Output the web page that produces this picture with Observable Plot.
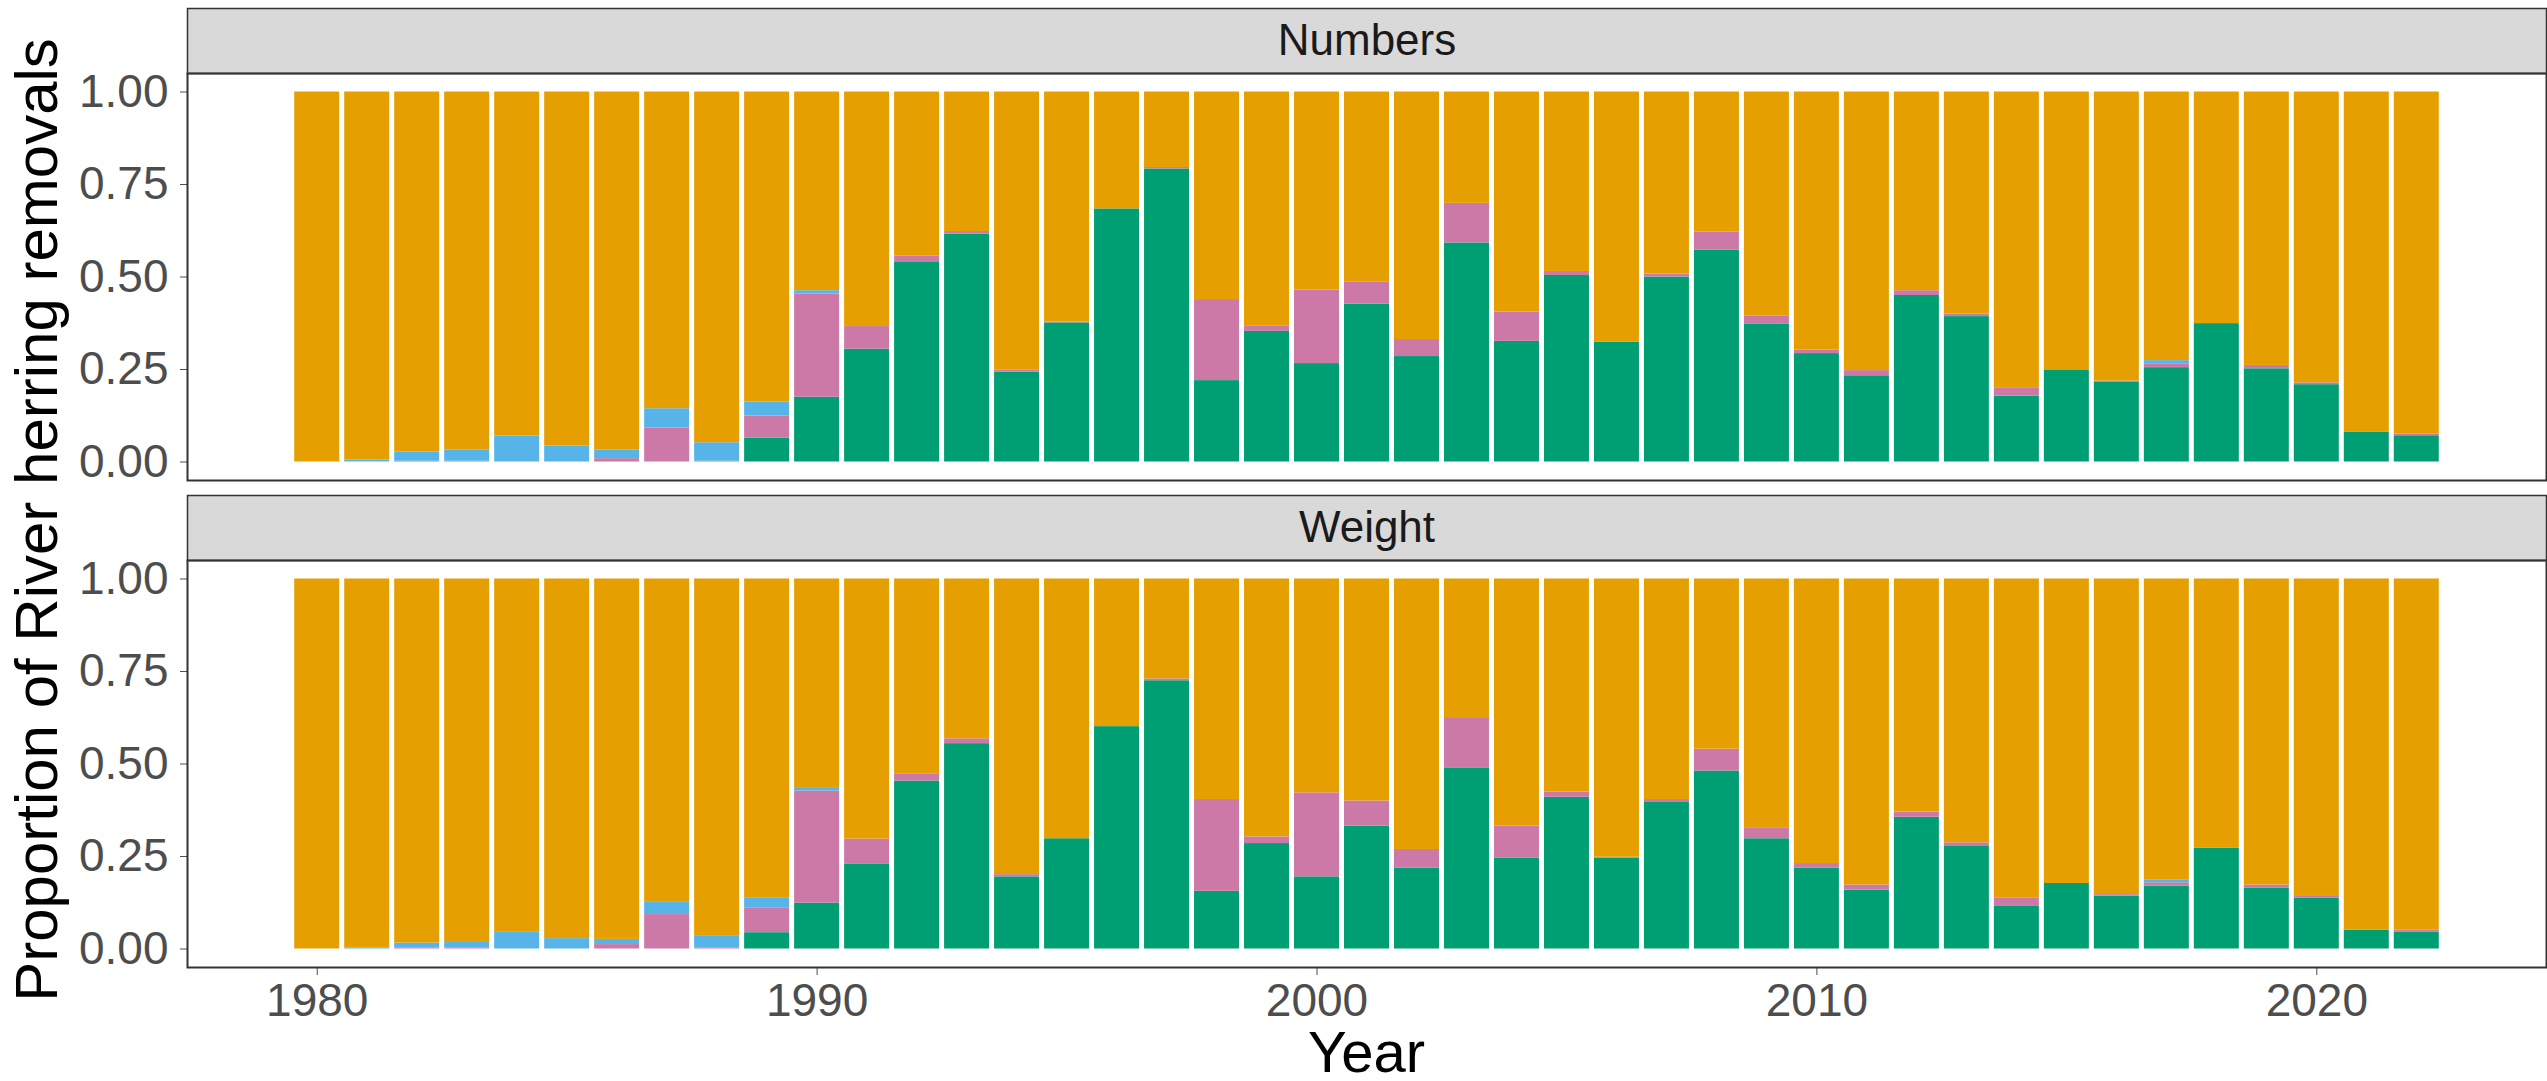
<!DOCTYPE html>
<html>
<head>
<meta charset="utf-8">
<script src="https://cdn.jsdelivr.net/npm/d3@7"></script>
<script src="https://cdn.jsdelivr.net/npm/@observablehq/plot@0.6"></script>
<style>
  html, body { margin: 0; padding: 0; background: #ffffff; }
</style>
</head>
<body>
<div id="chart"></div>
<script>
// ---------- data ----------
const years = [1980,1981,1982,1983,1984,1985,1986,1987,1988,1989,
               1990,1991,1992,1993,1994,1995,1996,1997,1998,1999,
               2000,2001,2002,2003,2004,2005,2006,2007,2008,2009,
               2010,2011,2012,2013,2014,2015,2016,2017,2018,2019,
               2020,2021,2022];

const panels = ["Numbers", "Weight"];

// stacking order, bottom to top
const seriesNames  = ["Series 1", "Series 2", "Series 3", "Series 4"];
const seriesColors = ["#009E73", "#CC79A7", "#56B4E9", "#E69F00"];

const xTicks = [1980, 1990, 2000, 2010, 2020];
const yTicks = [0, 0.25, 0.5, 0.75, 1];

// Numbers panel
const numbersS1 = [0,0,0,0,0,0,0,0,0,0.064,
                   0.175,0.305,0.541,0.616,0.243,0.376,0.684,0.792,0.220,0.353,
                   0.266,0.427,0.285,0.592,0.326,0.504,0.323,0.500,0.573,0.372,
                   0.293,0.233,0.450,0.393,0.178,0.249,0.215,0.255,0.374,0.252,
                   0.209,0.080,0.071];
const numbersS2 = [0,0,0.002,0.002,0,0,0.009,0.092,0.002,0.060,
                   0.279,0.061,0.016,0.007,0.005,0.002,0,0.004,0.219,0.015,
                   0.199,0.060,0.046,0.107,0.079,0.011,0.002,0.008,0.048,0.023,
                   0.010,0.014,0.013,0.007,0.021,0,0.004,0.009,0,0.009,
                   0.005,0,0.005];
const numbersS3 = [0,0.005,0.025,0.031,0.070,0.043,0.023,0.052,0.050,0.038,
                   0.009,0,0,0,0,0,0,0,0,0,
                   0,0,0,0,0,0,0,0,0,0,
                   0,0,0,0,0,0,0,0.010,0,0,
                   0,0,0];
const numbersS4 = [1.000,0.995,0.973,0.967,0.930,0.957,0.968,0.856,0.948,0.838,
                   0.537,0.634,0.443,0.377,0.752,0.622,0.316,0.204,0.561,0.632,
                   0.535,0.513,0.669,0.301,0.595,0.485,0.675,0.492,0.379,0.605,
                   0.697,0.753,0.537,0.600,0.801,0.751,0.781,0.726,0.626,0.739,
                   0.786,0.920,0.924];

// Weight panel
const weightS1 = [0,0,0,0,0,0,0,0,0,0.044,
                  0.124,0.230,0.454,0.555,0.195,0.298,0.601,0.725,0.156,0.285,
                  0.195,0.332,0.219,0.488,0.245,0.410,0.246,0.396,0.481,0.298,
                  0.219,0.159,0.356,0.277,0.115,0.177,0.143,0.170,0.272,0.164,
                  0.137,0.051,0.046];
const weightS2 = [0,0,0.002,0.002,0,0,0.012,0.093,0.002,0.066,
                  0.303,0.067,0.018,0.013,0.006,0,0,0.005,0.248,0.018,
                  0.227,0.068,0.050,0.135,0.087,0.014,0.002,0.008,0.059,0.028,
                  0.012,0.014,0.014,0.010,0.022,0,0.004,0.009,0.002,0.009,
                  0.005,0,0.005];
const weightS3 = [0,0.003,0.014,0.018,0.045,0.028,0.014,0.033,0.034,0.027,
                  0.007,0,0,0,0,0,0,0,0,0,
                  0,0,0,0,0,0,0,0,0,0,
                  0,0,0,0,0,0,0,0.008,0,0,
                  0,0,0];
const weightS4 = [1.000,0.997,0.984,0.980,0.955,0.972,0.974,0.874,0.964,0.863,
                  0.566,0.703,0.528,0.432,0.799,0.702,0.399,0.270,0.596,0.697,
                  0.578,0.600,0.731,0.377,0.668,0.576,0.752,0.596,0.460,0.674,
                  0.769,0.827,0.630,0.713,0.863,0.823,0.853,0.813,0.726,0.827,
                  0.858,0.949,0.949];

// ---------- table for the library ----------
const panelSeries = {
  "Numbers": [numbersS1, numbersS2, numbersS3, numbersS4],
  "Weight":  [weightS1,  weightS2,  weightS3,  weightS4]
};
const rows = [];
for (const panel of panels) {
  years.forEach((year, i) => {
    seriesNames.forEach((name, k) => {
      rows.push({panel, year, series: name, value: panelSeries[panel][k][i]});
    });
  });
}

// ---------- layout ----------
const W = 2547, H = 1081;
const mTop = 73, mBottom = 114, mLeft = 187, mRight = 1;
const stripH = 65, panelGap = 15;
const innerH = H - mTop - mBottom;
const panelH = (innerH - stripH - panelGap) / 2;
const padInner = (stripH + panelGap) / (panelH + stripH + panelGap);

const font = "'Liberation Sans', Arial, Helvetica, sans-serif";

const plot = Plot.plot({
  width: W,
  height: H,
  marginTop: mTop,
  marginBottom: mBottom,
  marginLeft: mLeft,
  marginRight: mRight,
  style: {fontFamily: font, fontSize: "46px", color: "#4D4D4D", background: "#ffffff", overflow: "visible"},
  x: {domain: [1977.405, 2024.595], ticks: xTicks, tickFormat: d => String(d), tickSize: 8, tickPadding: 8, label: null},
  y: {domain: [-0.05, 1.05], ticks: yTicks, tickFormat: d => d.toFixed(2), tickSize: 7, tickPadding: 12, label: null},
  fy: {domain: panels, axis: null, paddingInner: padInner, paddingOuter: 0, label: null},
  color: {domain: seriesNames, range: seriesColors},
  marks: [
    Plot.frame({fill: "#D9D9D9", stroke: "#333333", strokeWidth: 1.5, insetTop: -stripH, insetBottom: panelH}),
    Plot.rectY(rows, {
      fy: "panel",
      x1: d => d.year - 0.45,
      x2: d => d.year + 0.45,
      y: "value",
      fill: "series"
    }),
    Plot.frame({stroke: "#333333", strokeWidth: 2}),
    Plot.text(panels, {
      fy: d => d,
      text: d => d,
      frameAnchor: "top",
      lineAnchor: "middle",
      dy: -stripH / 2,
      fontSize: 44,
      fill: "#1A1A1A",
      fontFamily: font
    })
  ]
});

const svg = d3.select(plot);
// y axis title (spans both panels)
const yMid = mTop + innerH / 2;
svg.append("text")
  .attr("x", 57).attr("y", yMid)
  .attr("transform", `rotate(-90, 57, ${yMid})`)
  .attr("text-anchor", "middle")
  .attr("fill", "#000000")
  .style("font-size", "60px")
  .style("font-family", font)
  .text("Proportion of River herring removals");
// x axis title
svg.append("text")
  .attr("x", mLeft + (W - mLeft - mRight) / 2).attr("y", 1072)
  .attr("text-anchor", "middle")
  .attr("fill", "#000000")
  .style("font-size", "58px")
  .style("font-family", font)
  .text("Year");

document.getElementById("chart").appendChild(plot);
</script>
</body>
</html>
